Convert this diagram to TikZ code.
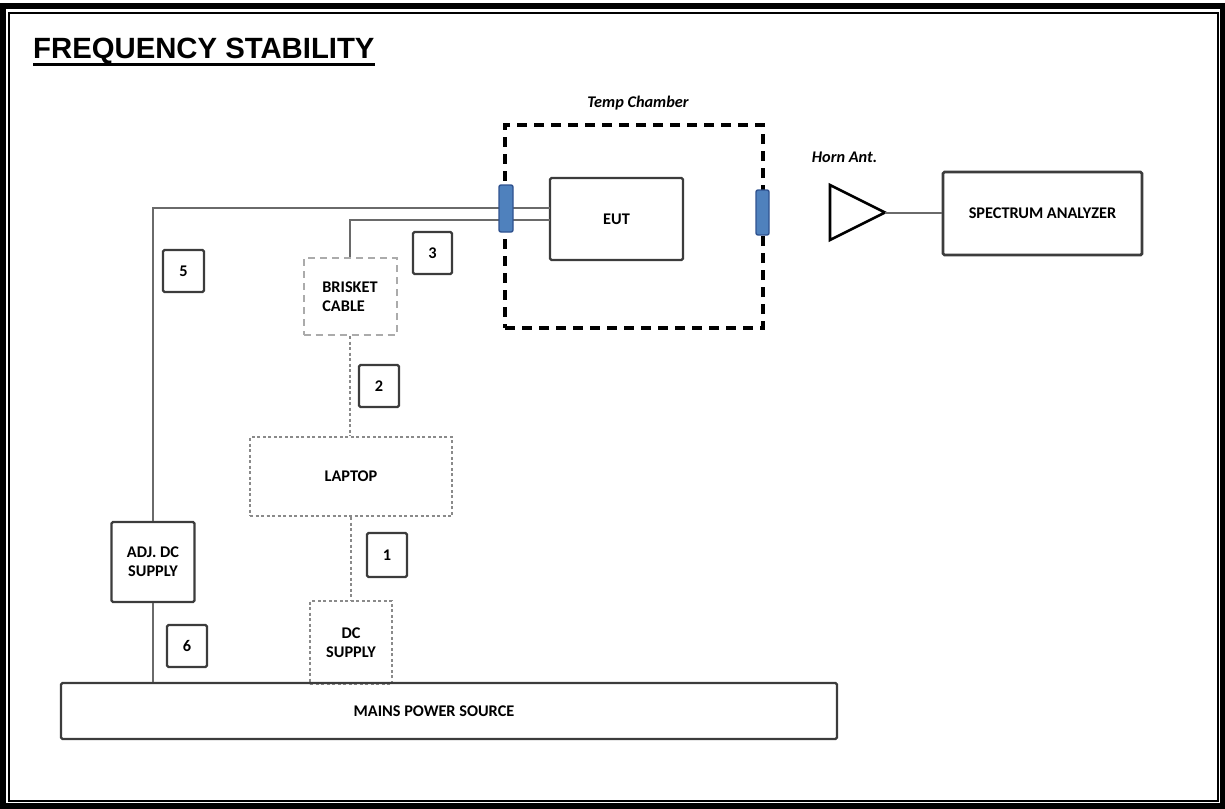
\documentclass[tikz,border=0pt]{standalone}
\usepackage{fontspec}
\setmainfont{Carlito}
\newfontfamily\titlefont{Liberation Sans}
\definecolor{boxgray}{HTML}{3C3C3C}
\definecolor{cablegray}{HTML}{6A6A6A}
\definecolor{dotgray}{HTML}{8A8A8A}
\definecolor{dashgray}{HTML}{ABABAB}
\definecolor{connblue}{HTML}{4F81BD}
\definecolor{connedge}{HTML}{2F528F}
\begin{document}
\begin{tikzpicture}[x=1pt,y=-1pt,
  lbl/.style={font=\fontsize{16.3}{19}\selectfont\bfseries},
  box/.style={draw=boxgray, line width=2.2pt, rounded corners=1.5pt, inner sep=0pt, align=center, lbl},
  numbox/.style={box, minimum width=40pt, minimum height=42pt},
  dotbox/.style={draw=dotgray, line width=2.2pt, dash pattern=on 3pt off 2.5pt, inner sep=0pt, align=center, lbl},
  dashbox/.style={draw=dashgray, line width=2pt, dash pattern=on 7pt off 5pt, inner sep=0pt, lbl},
  cable/.style={draw=cablegray, line width=2pt},
  dotcable/.style={draw=dotgray, line width=2.2pt, dash pattern=on 3pt off 2.5pt},
  conn/.style={fill=connblue, draw=connedge, line width=1.4pt, rounded corners=2pt, inner sep=0pt}]
\useasboundingbox (0,0) rectangle (1225,808);
% frame
\draw[line width=6pt] (3,6) rectangle (1223,805.5);
\draw[line width=2pt] (9,13) rectangle (1218,801);
% title
\node[anchor=base west, inner sep=0pt, font=\titlefont\bfseries\fontsize{29.3}{35}\selectfont] (title) at (33,59) {FREQUENCY STABILITY};
\draw[line width=2.7pt] ([yshift=-5.5pt]title.base west) -- ([yshift=-5.5pt]title.base east);
% temp chamber
\node[lbl, font=\fontsize{16.3}{19}\selectfont\bfseries\itshape] (tclbl) at (638,103) {Temp Chamber};
\node[draw, line width=3.5pt, dash pattern=on 10pt off 7pt, minimum width=258pt, minimum height=203pt, inner sep=0pt] (chamber) at (634,226.5) {};
\node[box, minimum width=133pt, minimum height=82pt] (eut) at (616.5,219) {EUT};
% horn and SA
\node[lbl, font=\fontsize{16.3}{19}\selectfont\bfseries\itshape] (hornlbl) at (844.5,157) {Horn Ant.};
\coordinate (hA) at (830,185);
\coordinate (hB) at (830,240);
\coordinate (hornTip) at (885,212.5);
\draw[line width=2.6pt, line join=miter] (hA) -- (hornTip) -- (hB) -- cycle;
\node[box, line width=2.8pt, minimum width=199pt, minimum height=83pt] (sa) at (1042.5,213.5) {SPECTRUM ANALYZER};
\draw[cable] (hornTip) -- (sa.west |- hornTip);
% other boxes
\node[dashbox, align=left, minimum width=93pt, minimum height=77pt] (brisket) at (350,296.5) {BRISKET\\CABLE};
\node[dotbox, minimum width=202pt, minimum height=79pt] (laptop) at (351,476.5) {LAPTOP};
\node[dotbox, minimum width=82pt, minimum height=83pt] (dcsup) at (351,642.5) {DC\\SUPPLY};
\node[box, minimum width=83pt, minimum height=80pt] (adj) at (153,562) {ADJ. DC\\SUPPLY};
\node[box, minimum width=776pt, minimum height=56pt] (mains) at (449,711) {};
\node[lbl, inner sep=0pt] (mainslbl) at ([xshift=-15pt]mains.center) {MAINS POWER SOURCE};
\node[numbox, minimum width=41pt] (n5) at (183.5,271) {5};
\node[numbox, minimum width=39pt] (n3) at (432.5,253) {3};
\node[numbox] (n2) at (379,386) {2};
\node[numbox, minimum height=44pt] (n1) at (387,555) {1};
\node[numbox] (n6) at (187,646) {6};
% cables
\coordinate (e1) at (550,208);
\coordinate (e2) at (550,220);
\draw[cable] (adj.north) |- (e1);
\draw[cable] (brisket.north) |- (e2);
\draw[cable] (adj.south) -- (adj.south |- mains.north);
\draw[dotcable] (brisket.south) -- (brisket.south |- laptop.north);
\draw[dotcable] (laptop.south) -- (laptop.south |- dcsup.north);
% connectors
\node[conn, minimum width=14pt, minimum height=47pt] (connL) at (506,208.5) {};
\node[conn, minimum width=13pt, minimum height=45pt] (connR) at (762.5,212.5) {};
\end{tikzpicture}
\end{document}
